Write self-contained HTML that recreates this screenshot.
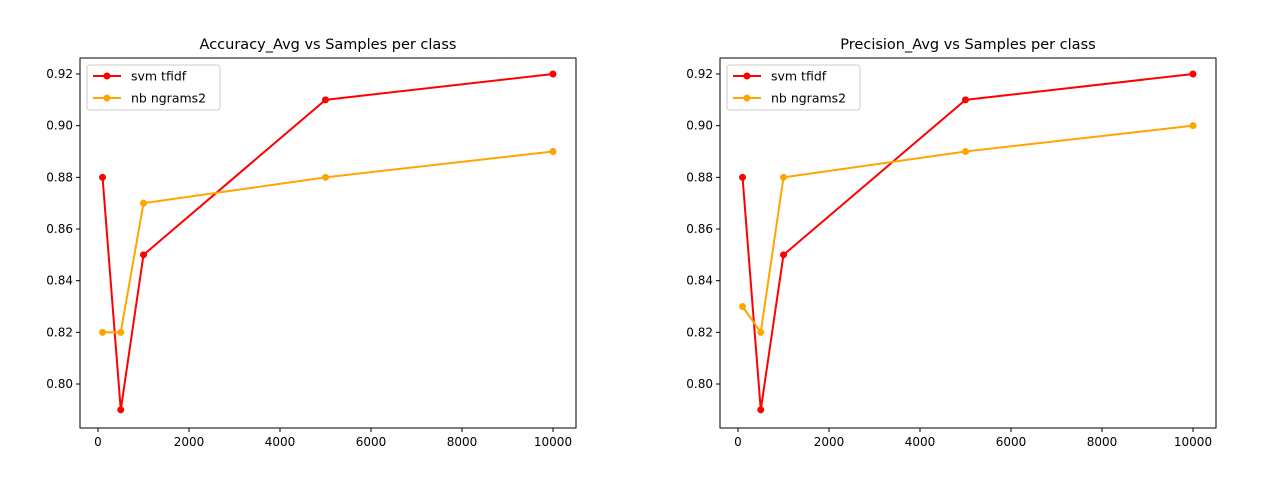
<!DOCTYPE html>
<html><head><meta charset="utf-8"><style>
body{margin:0;background:#fff;font-family:"Liberation Sans","DejaVu Sans",sans-serif;}
</style></head><body>
<svg id="chart" width="1280" height="480" xmlns="http://www.w3.org/2000/svg" font-family="'DejaVu Sans','Liberation Sans',sans-serif"></svg>
<script>
const samples=[100,500,1000,5000,10000];
const accSvm=[0.88,0.79,0.85,0.91,0.92];
const accNb=[0.82,0.82,0.87,0.88,0.89];
const precSvm=[0.88,0.79,0.85,0.91,0.92];
const precNb=[0.83,0.82,0.88,0.89,0.90];
const xTicks=[0,2000,4000,6000,8000,10000];
const yTicks=[0.80,0.82,0.84,0.86,0.88,0.90,0.92];
const titles=["Accuracy_Avg vs Samples per class","Precision_Avg vs Samples per class"];
const seriesNames=["svm tfidf","nb ngrams2"];
const colors=["#ff0000","#ffa500"];
const svg=document.getElementById('chart');
const NS="http://www.w3.org/2000/svg";
function mk(t,a,p){const e=document.createElementNS(NS,t);for(const k in a)e.setAttribute(k,a[k]);(p||svg).appendChild(e);return e;}
const panels=[{left:80,data:[accSvm,accNb],name:"accuracy-panel"},{left:720,data:[precSvm,precNb],name:"precision-panel"}];
panels.forEach((p,pi)=>{
  const g=mk('g',{});
  
  
  const L=p.left,R=L+496,T=58,B=428;
  const xs=v=>L+18+v*(455/10000);
  const ys=v=>74+(0.92-v)*(310/0.12);
  const frame=mk('rect',{x:L,y:T,width:496,height:B-T,fill:'none',stroke:'#000','stroke-width':1},g);
  
  
  xTicks.forEach(t=>{const x=xs(t);mk('line',{x1:x,x2:x,y1:B,y2:B+4,stroke:'#000'},g);
    const tx=mk('text',{x:x,y:B+18,'text-anchor':'middle','font-size':12},g);tx.textContent=t;
    
    });
  yTicks.forEach(t=>{const y=ys(t);mk('line',{x1:L-4,x2:L,y1:y,y2:y,stroke:'#000'},g);
    const tx=mk('text',{x:L-7,y:y+4,'text-anchor':'end','font-size':12},g);tx.textContent=t.toFixed(2);
    
    });
  const ti=mk('text',{x:L+248,y:49,'text-anchor':'middle','font-size':14.5},g);ti.textContent=titles[pi];
  
  
  p.data.forEach((vals,si)=>{
    const pts=samples.map((s,i)=>xs(s)+','+ys(vals[i])).join(' ');
    const pl=mk('polyline',{points:pts,fill:'none',stroke:colors[si],'stroke-width':2},g);
    
    
    samples.forEach((s,i)=>{const c=mk('circle',{cx:xs(s),cy:ys(vals[i]),r:3.5,fill:colors[si]},g);
      
      });
  });
  const lg=mk('g',{},g);
  
  
  mk('rect',{x:L+7,y:65,width:133,height:45,rx:3,fill:'#fff',stroke:'#ccc'},lg);
  seriesNames.forEach((n,si)=>{const y=76+si*22;
    mk('line',{x1:L+13,x2:L+41,y1:y,y2:y,stroke:colors[si],'stroke-width':2},lg);
    mk('circle',{cx:L+27,cy:y,r:3.5,fill:colors[si]},lg);
    const t=mk('text',{x:L+51,y:y+4.5,'font-size':12.5},lg);t.textContent=n;
    
    });
});
</script>
</body></html>
